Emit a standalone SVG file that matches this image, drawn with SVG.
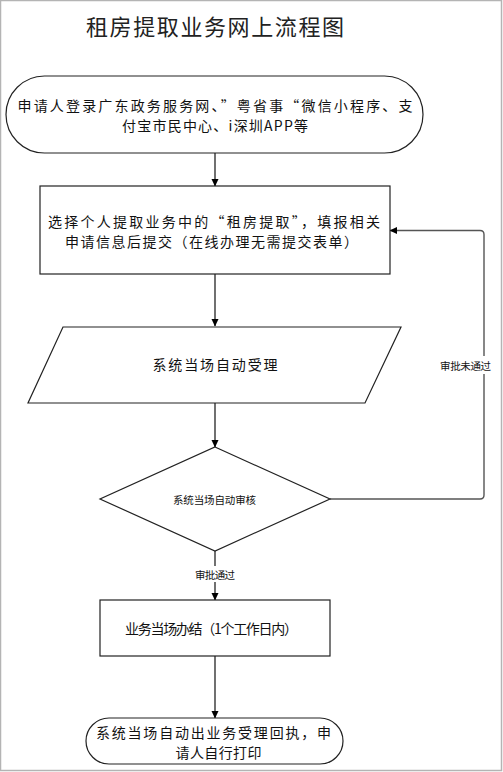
<svg xmlns="http://www.w3.org/2000/svg" width="503" height="772" viewBox="0 0 503 772">
<defs>
<marker id="arr" markerWidth="8" markerHeight="8" refX="7" refY="4" orient="auto" markerUnits="userSpaceOnUse">
<path d="M0,0.5 L7.5,4 L0,7.5 Z" fill="#000"/>
</marker>
<style>
.shape{fill:#fff;stroke:#222;stroke-width:1.2}
.t{font-family:"Noto Sans CJK SC","Liberation Sans",sans-serif;font-size:14px;fill:#111;text-anchor:middle;dominant-baseline:central}
.s{font-family:"Noto Sans CJK SC","Liberation Sans",sans-serif;font-size:10.5px;fill:#111;text-anchor:middle;dominant-baseline:central}
.c{fill:none;stroke:#111;stroke-width:1.2}
.g{fill:none;stroke:#555;stroke-width:1.4}
</style>
</defs>
<rect x="0.5" y="0.5" width="501" height="770" fill="#fff" stroke="#b4b4b4" stroke-width="1.5"/>
<text id="title" x="215" y="25" style="font-family:'Noto Sans CJK SC','Liberation Sans',sans-serif;font-size:22px;fill:#222;text-anchor:middle;dominant-baseline:central" textLength="258" lengthAdjust="spacing">租房提取业务网上流程图</text>
<g id="connectors">
<line class="c" x1="215" y1="153" x2="215" y2="186" marker-end="url(#arr)"/>
<line class="c" x1="215" y1="274" x2="215" y2="326" marker-end="url(#arr)"/>
<line class="c" x1="215" y1="403" x2="215" y2="447" marker-end="url(#arr)"/>
<line class="c" x1="215" y1="551" x2="215" y2="600" marker-end="url(#arr)"/>
<line class="c" x1="215" y1="656" x2="215" y2="718" marker-end="url(#arr)"/>
<path class="g" d="M330,499 H480 Q484,499 484,495 V234.5 Q484,230.5 480,230.5 H390" marker-end="url(#arr)"/>
<rect x="194" y="566" width="42" height="16" fill="#fff"/>
<text class="s" x="215" y="574" textLength="40" lengthAdjust="spacing">审批通过</text>
<rect x="439" y="356" width="54" height="18" fill="#fff"/>
<text class="s" x="465.5" y="365" textLength="51" lengthAdjust="spacing">审批未通过</text>
</g>
<g id="start">
<rect class="shape" x="6" y="76" width="417" height="77" rx="38.5" ry="38.5"/>
<text class="t" x="215" y="104.5" textLength="395" lengthAdjust="spacing">申请人登录广东政务服务网、”粤省事“微信小程序、支</text>
<text class="t" x="215" y="125" textLength="186" lengthAdjust="spacing">付宝市民中心、i深圳APP等</text>
</g>
<g id="fill-form">
<rect class="shape" x="40" y="186" width="350" height="88"/>
<text class="t" x="214" y="220.5" textLength="332" lengthAdjust="spacing">选择个人提取业务中的“租房提取”，填报相关</text>
<text class="t" x="211.5" y="241" textLength="293" lengthAdjust="spacing">申请信息后提交（在线办理无需提交表单）</text>
</g>
<g id="accept">
<polygon class="shape" points="63,327 401,327 365,403 28,403"/>
<text class="t" x="215" y="364" textLength="125" lengthAdjust="spacing">系统当场自动受理</text>
</g>
<g id="review">
<polygon class="shape" points="215,447 330,499 215,551 100,499"/>
<text class="s" x="214.5" y="499" textLength="83" lengthAdjust="spacing">系统当场自动审核</text>
</g>
<g id="complete">
<rect class="shape" x="100" y="600" width="230" height="56"/>
<text class="t" x="211.5" y="628" textLength="173" lengthAdjust="spacing">业务当场办结（1个工作日内）</text>
</g>
<g id="end">
<rect class="shape" x="86" y="718" width="257" height="46" rx="23" ry="23"/>
<text class="t" x="213.5" y="731.5" textLength="235" lengthAdjust="spacing">系统当场自动出业务受理回执，申</text>
<text class="t" x="218.5" y="752" textLength="86" lengthAdjust="spacing">请人自行打印</text>
</g>
</svg>
